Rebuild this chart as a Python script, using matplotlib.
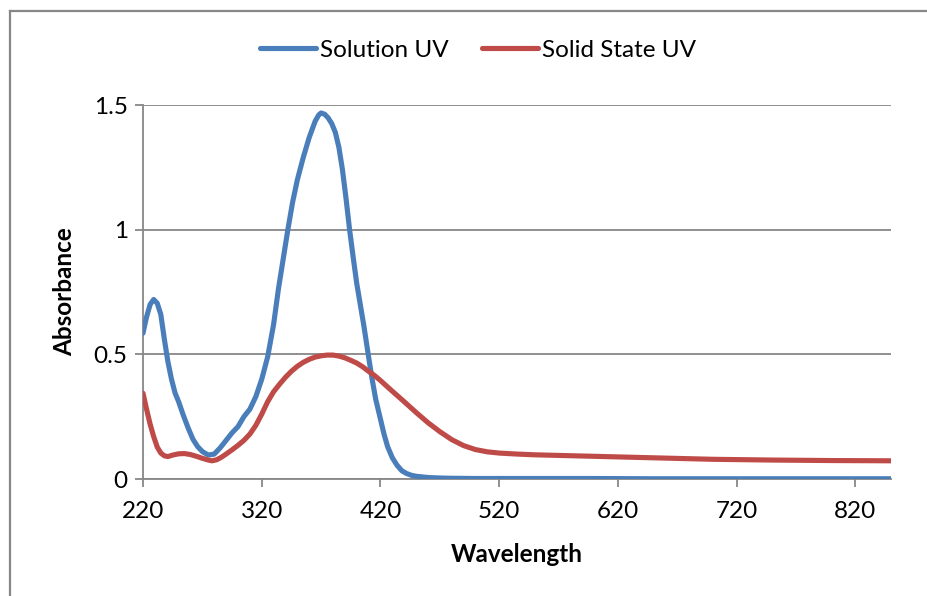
import matplotlib
matplotlib.use("Agg")
import matplotlib.pyplot as plt
from matplotlib.lines import Line2D

plt.rcParams['font.family'] = ['Lato', 'DejaVu Sans']

# Solution UV spectrum
sol_wl = [220, 223, 226, 229, 232, 235, 238, 241, 244, 247, 250, 254, 258, 262,
          266, 270, 275, 280, 285, 290, 295, 300, 305, 310, 315, 320, 325, 330,
          334, 338, 342, 346, 350, 355, 360, 365, 368, 370, 373, 376, 379, 382,
          385, 388, 391, 394, 397, 400, 403, 406, 410, 413, 416, 420, 423, 426,
          430, 434, 438, 442, 446, 450, 460, 470, 480, 500, 550, 600, 650, 700,
          750, 800, 850]
sol_abs = [0.585, 0.65, 0.70, 0.72, 0.705, 0.66, 0.56, 0.47, 0.40, 0.345, 0.31,
           0.255, 0.205, 0.16, 0.13, 0.11, 0.096, 0.10, 0.125, 0.155, 0.185,
           0.21, 0.25, 0.28, 0.33, 0.40, 0.49, 0.62, 0.76, 0.88, 1.0, 1.11, 1.2,
           1.29, 1.37, 1.435, 1.46, 1.468, 1.463, 1.448, 1.425, 1.39, 1.33, 1.24,
           1.125, 1.0, 0.89, 0.785, 0.70, 0.615, 0.49, 0.40, 0.32, 0.24, 0.18,
           0.13, 0.085, 0.055, 0.033, 0.022, 0.015, 0.011, 0.006, 0.004, 0.003,
           0.002, 0.002, 0.002, 0.001, 0.001, 0.001, 0.001, 0.001]

# Solid state UV spectrum
solid_wl = [220, 223, 226, 229, 232, 235, 238, 241, 245, 250, 255, 260, 265, 270,
            275, 278, 282, 286, 290, 295, 300, 305, 310, 315, 320, 325, 330, 335,
            340, 345, 350, 355, 360, 365, 370, 375, 380, 385, 390, 395, 400, 405,
            410, 415, 420, 430, 440, 450, 460, 470, 480, 490, 500, 510, 520, 535,
            550, 600, 650, 700, 750, 800, 850]
solid_abs = [0.344, 0.28, 0.22, 0.17, 0.128, 0.104, 0.093, 0.09, 0.096, 0.101,
             0.102, 0.098, 0.091, 0.083, 0.076, 0.073, 0.077, 0.087, 0.10, 0.117,
             0.135, 0.155, 0.18, 0.215, 0.26, 0.31, 0.35, 0.38, 0.408, 0.432,
             0.452, 0.468, 0.48, 0.489, 0.494, 0.497, 0.497, 0.493, 0.486, 0.476,
             0.465, 0.45, 0.432, 0.415, 0.395, 0.352, 0.31, 0.267, 0.226, 0.19,
             0.158, 0.134, 0.118, 0.109, 0.104, 0.100, 0.097, 0.091, 0.085, 0.079,
             0.076, 0.074, 0.073]

x_ticks = [220, 320, 420, 520, 620, 720, 820]
y_ticks = [0, 0.5, 1, 1.5]
y_tick_labels = ["0", "0.5", "1", "1.5"]

blue = "#4A7EBB"
red = "#BE4B48"
grid_gray = "#878787"

fig = plt.figure(figsize=(9.27, 5.96), dpi=100)
ax = fig.add_axes([143 / 927, 1 - 479 / 596, 748 / 927, 374 / 596])

ax.plot(sol_wl, sol_abs, color=blue, lw=3.7, solid_capstyle='round',
        solid_joinstyle='round', label="Solution UV", zorder=3)
ax.plot(solid_wl, solid_abs, color=red, lw=3.7, solid_capstyle='round',
        solid_joinstyle='round', label="Solid State UV", zorder=3)

ax.set_xlim(220, 850)
ax.set_ylim(0, 1.5)
ax.set_xticks(x_ticks)
ax.set_yticks(y_ticks)
ax.set_yticklabels(y_tick_labels)

ax.yaxis.grid(True, color=grid_gray, lw=1.3)
ax.set_axisbelow(True)
for s in ['top', 'right']:
    ax.spines[s].set_visible(False)
for s in ['left', 'bottom']:
    ax.spines[s].set_color(grid_gray)
    ax.spines[s].set_linewidth(1.3)
ax.tick_params(axis='both', direction='out', length=6, width=1.3,
               color=grid_gray, labelsize=17.5, labelcolor='black')
ax.tick_params(axis='x', pad=10)
ax.tick_params(axis='y', pad=5)

ax.set_xlabel("Wavelength", fontsize=17.5, fontweight='bold', labelpad=15)
ax.set_ylabel("Absorbance", fontsize=17.5, fontweight='bold', labelpad=13)

fig.legend(loc='center', bbox_to_anchor=(478 / 927, 1 - 50 / 596), ncol=2,
           frameon=False, fontsize=17.5, handlelength=2.3, handletextpad=0.15,
           columnspacing=1.4)

# outer chart border (left and top edges)
fig.add_artist(Line2D([10 / 927, 10 / 927], [0, 1 - 11 / 596],
                      transform=fig.transFigure, color=grid_gray, lw=1.6))
fig.add_artist(Line2D([10 / 927, 1], [1 - 11 / 596, 1 - 11 / 596],
                      transform=fig.transFigure, color=grid_gray, lw=1.6))

fig.savefig("out.png", dpi=100, facecolor='white')
